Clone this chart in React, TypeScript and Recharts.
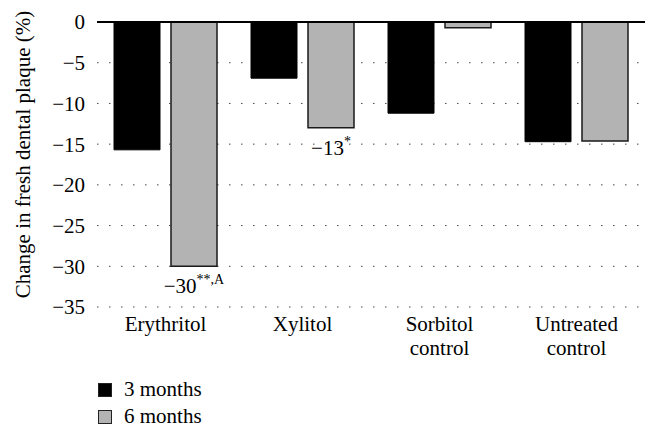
import React from 'react';
import { BarChart, Bar, XAxis, YAxis, CartesianGrid, ReferenceLine, Legend, LabelList, Label } from 'recharts';

const FONT = '"Liberation Serif", "DejaVu Serif", serif';

const categories = ['Erythritol', 'Xylitol', 'Sorbitol\ncontrol', 'Untreated\ncontrol'];
const threeMonths = [-15.7, -6.9, -11.2, -14.7];
const sixMonths = [-30.0, -13.0, -0.7, -14.6];
const sixMonthLabelMain = ['−30', '−13', '', ''];
const sixMonthLabelSup = ['**,A', '*', '', ''];
const yTicks = [0, -5, -10, -15, -20, -25, -30, -35];
const seriesNames = ['3 months', '6 months'];
const yTitle = 'Change in fresh dental plaque (%)';

const data = categories.map((c, i) => ({ category: c, m3: threeMonths[i], m6: sixMonths[i] }));

const fmt = (v: number) => (v === 0 ? '0' : '−' + Math.abs(v));

const XTick = (props: any) => {
  const { x, y, payload } = props;
  const lines = String(payload.value).split('\n');
  return (
    <text x={x} y={y} textAnchor="middle" fontFamily={FONT} fontSize={21} fill="#000">
      {lines.map((l, i) => (
        <tspan key={i} x={x} dy={i === 0 ? 16 : 24}>
          {l}
        </tspan>
      ))}
    </text>
  );
};

const YTitle = (props: any) => {
  const vb = props.viewBox || { x: 0, y: 22, width: 97, height: 285 };
  const cx = vb.x + 30;
  const cy = vb.y + vb.height / 2 - 10;
  return (
    <text
      x={cx}
      y={cy}
      transform={`rotate(-90 ${cx} ${cy})`}
      textAnchor="middle"
      fontFamily={FONT}
      fontSize={21}
      fill="#000"
    >
      {yTitle}
    </text>
  );
};

const AnnotLabel = (props: any) => {
  const { x, y, width, height, index } = props;
  const main = sixMonthLabelMain[index];
  const sup = sixMonthLabelSup[index];
  if (!main) return null;
  const bottom = Math.max(Number(y), Number(y) + Number(height));
  const cx = Number(x) + Number(width) / 2;
  return (
    <text x={cx} y={bottom + 27} textAnchor="middle" fontFamily={FONT} fontSize={21} fill="#000">
      <tspan>{main}</tspan>
      <tspan fontSize={14} dy={-9}>{sup}</tspan>
    </text>
  );
};

const LegendContent = (props: any) => {
  const payload = props.payload || [];
  return (
    <div style={{ fontFamily: FONT, fontSize: 21, color: '#000' }}>
      {payload.map((e: any, i: number) => (
        <div key={i} style={{ display: 'flex', alignItems: 'center', height: 27 }}>
          <span
            style={{
              display: 'inline-block',
              width: 14,
              height: 14,
              background: e.color,
              border: '1px solid #222',
              boxSizing: 'border-box',
              marginRight: 12,
            }}
          />
          <span>{e.value}</span>
        </div>
      ))}
    </div>
  );
};

export default function App() {
  return (
    <div style={{ position: 'absolute', left: 0, top: 0, width: 660, height: 439, background: '#fff' }}>
      <BarChart
        width={660}
        height={439}
        data={data}
        margin={{ top: 22, right: 15, bottom: 0, left: 0 }}
        barCategoryGap={17}
        barGap={11}
      >
        <CartesianGrid vertical={false} stroke="#444" strokeDasharray="1.5 10.5" />
        <XAxis
          dataKey="category"
          axisLine={false}
          tickLine={false}
          height={132}
          interval={0}
          tick={<XTick />}
        />
        <YAxis
          width={97}
          domain={[-35, 0]}
          ticks={yTicks}
          tickFormatter={fmt}
          axisLine={false}
          tickLine={false}
          tickSize={0}
          tickMargin={12}
          tick={{ fontFamily: FONT, fontSize: 21, fill: '#000' }}
          label={<Label content={<YTitle />} />}
        />
        <Bar dataKey="m3" name={seriesNames[0]} fill="#000" stroke="#000" strokeWidth={1} isAnimationActive={false} />
        <Bar dataKey="m6" name={seriesNames[1]} fill="#b3b3b3" stroke="#1a1a1a" strokeWidth={1.5} isAnimationActive={false}>
          <LabelList dataKey="m6" content={<AnnotLabel />} />
        </Bar>
        <ReferenceLine y={0} stroke="#000" strokeWidth={2} />
        <Legend
          layout="vertical"
          align="center"
          verticalAlign="middle"
          wrapperStyle={{ left: 98, top: 376, width: 200 }}
          content={<LegendContent />}
        />
      </BarChart>
    </div>
  );
}
